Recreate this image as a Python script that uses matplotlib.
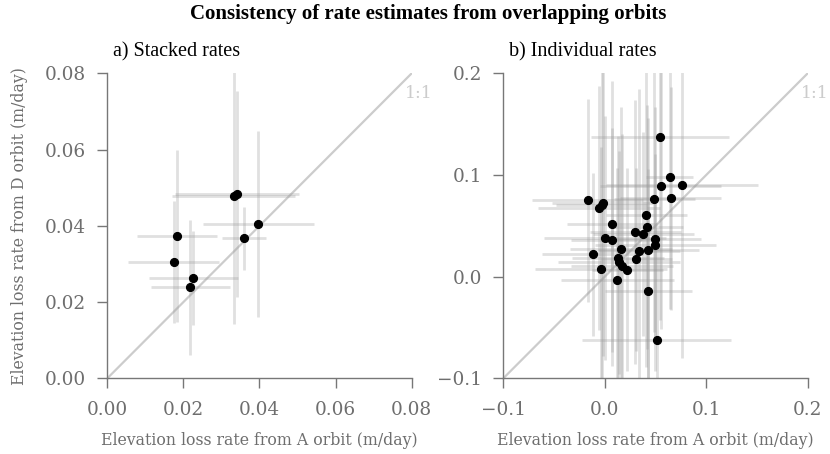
import matplotlib
matplotlib.use("Agg")
import matplotlib.pyplot as plt
import numpy as np

# ---- data: a) stacked rates ----
stack_a = [0.0182, 0.0174, 0.0226, 0.0218, 0.0332, 0.0341, 0.0360, 0.0397]
stack_d = [0.0374, 0.0304, 0.0263, 0.0239, 0.0479, 0.0483, 0.0367, 0.0405]
stack_a_err = [0.0105, 0.0119, 0.0117, 0.0104, 0.0162, 0.0162, 0.0058, 0.0145]
stack_d_err = [0.0225, 0.0160, 0.0123, 0.0177, 0.0336, 0.0270, 0.0083, 0.0245]

# ---- data: b) individual rates ----
ind_a = [0.054, 0.064, 0.055, 0.076, -0.017, 0.065, 0.049, -0.002, -0.006, -0.003,
         0.041, 0.0075, 0.042, 0.030, 0.038, 0.000, 0.007, 0.050, 0.050, 0.016,
         0.034, 0.043, -0.012, 0.013, 0.031, 0.014, -0.004, 0.017, 0.022, 0.0125,
         0.043, 0.051]
ind_d = [0.137, 0.098, 0.089, 0.090, 0.075, 0.077, 0.076, 0.072, 0.068, 0.070,
         0.061, 0.052, 0.049, 0.044, 0.042, 0.038, 0.036, 0.037, 0.031, 0.027,
         0.025, 0.026, 0.022, 0.018, 0.017, 0.014, 0.0075, 0.010, 0.007, -0.003,
         -0.014, -0.062]
ind_a_err = [0.068, 0.023, 0.060, 0.075, 0.055, 0.050, 0.040, 0.050, 0.060, 0.045,
             0.040, 0.045, 0.035, 0.045, 0.050, 0.060, 0.040, 0.045, 0.060, 0.050,
             0.040, 0.050, 0.050, 0.045, 0.035, 0.060, 0.065, 0.050, 0.035, 0.056,
             0.043, 0.073]
ind_d_err = [0.180, 0.130, 0.140, 0.170, 0.100, 0.110, 0.130, 0.150, 0.120, 0.170,
             0.150, 0.140, 0.120, 0.130, 0.100, 0.120, 0.110, 0.130, 0.090, 0.140,
             0.160, 0.130, 0.080, 0.120, 0.090, 0.110, 0.120, 0.130, 0.100, 0.110,
             0.120, 0.110]

panel_titles = ["a) Stacked rates", "b) Individual rates"]
limits = [(0.0, 0.08), (-0.1, 0.2)]
ticks = [[0.0, 0.02, 0.04, 0.06, 0.08], [-0.1, 0.0, 0.1, 0.2]]
tick_fmt = ["{:.2f}", "{:.1f}"]

fig = plt.figure(figsize=(8.30, 4.54), dpi=100)
ax1 = fig.add_axes([0.1293, 0.1667, 0.3667, 0.6718])
ax2 = fig.add_axes([0.6064, 0.1667, 0.3667, 0.6718])

serif_num = "DejaVu Serif"
serif_txt = "Liberation Serif"
txt_gray = "#6e6e6e"
spine_gray = "#777777"

datasets = [(stack_a, stack_d, stack_a_err, stack_d_err),
            (ind_a, ind_d, ind_a_err, ind_d_err)]

for ax, (xa, yd, xe, ye), title, lim, tk, fmt in zip(
        [ax1, ax2], datasets, panel_titles, limits, ticks, tick_fmt):
    lo, hi = lim
    ax.plot([lo, hi], [lo, hi], color="#cccccc", lw=1.6, zorder=1)
    ax.errorbar(xa, yd, xerr=xe, yerr=ye, fmt="none", ecolor="#9a9a9a",
                alpha=0.3, elinewidth=2.0, capsize=0, zorder=2)
    ax.plot(xa, yd, "o", color="black", markersize=5.6, zorder=3, clip_on=False)
    ax.set_xlim(lo, hi)
    ax.set_ylim(lo, hi)
    ax.set_xticks(tk)
    ax.set_yticks(tk)
    labels = [fmt.format(t).replace("-", "\u2212") for t in tk]
    ax.set_xticklabels(labels, fontfamily=serif_num, fontsize=13.3, color=txt_gray)
    ax.set_yticklabels(labels, fontfamily=serif_num, fontsize=13.3, color=txt_gray)
    ax.tick_params(direction="out", length=7.5, width=1.0, color=spine_gray)
    ax.tick_params(axis="x", pad=9)
    ax.tick_params(axis="y", pad=8)
    for s in ["top", "right"]:
        ax.spines[s].set_visible(False)
    for s in ["left", "bottom"]:
        ax.spines[s].set_color(spine_gray)
        ax.spines[s].set_linewidth(1.0)
    ax.text(0.02, 1.056, title, transform=ax.transAxes, fontfamily=serif_txt,
            fontsize=14.5, color="black", ha="left", va="baseline")
    ax.text(hi + (hi - lo) * 0.023, hi - (hi - lo) * 0.067, "1:1",
            fontfamily=serif_num, fontsize=12.5, color="#cccccc",
            ha="center", va="center", clip_on=False)
    ax.set_xlabel("Elevation loss rate from A orbit (m/day)", fontfamily=serif_num,
                  fontsize=11.3, color=txt_gray, labelpad=9)

ax1.set_ylabel("Elevation loss rate from D orbit (m/day)", fontfamily=serif_num,
               fontsize=11.3, color=txt_gray, labelpad=12)

fig.text(0.516, 1 - 19 / 454, "Consistency of rate estimates from overlapping orbits",
         fontfamily=serif_txt, fontweight="bold", fontsize=15, ha="center",
         va="baseline", color="black")

fig.savefig("out.png", dpi=100)
